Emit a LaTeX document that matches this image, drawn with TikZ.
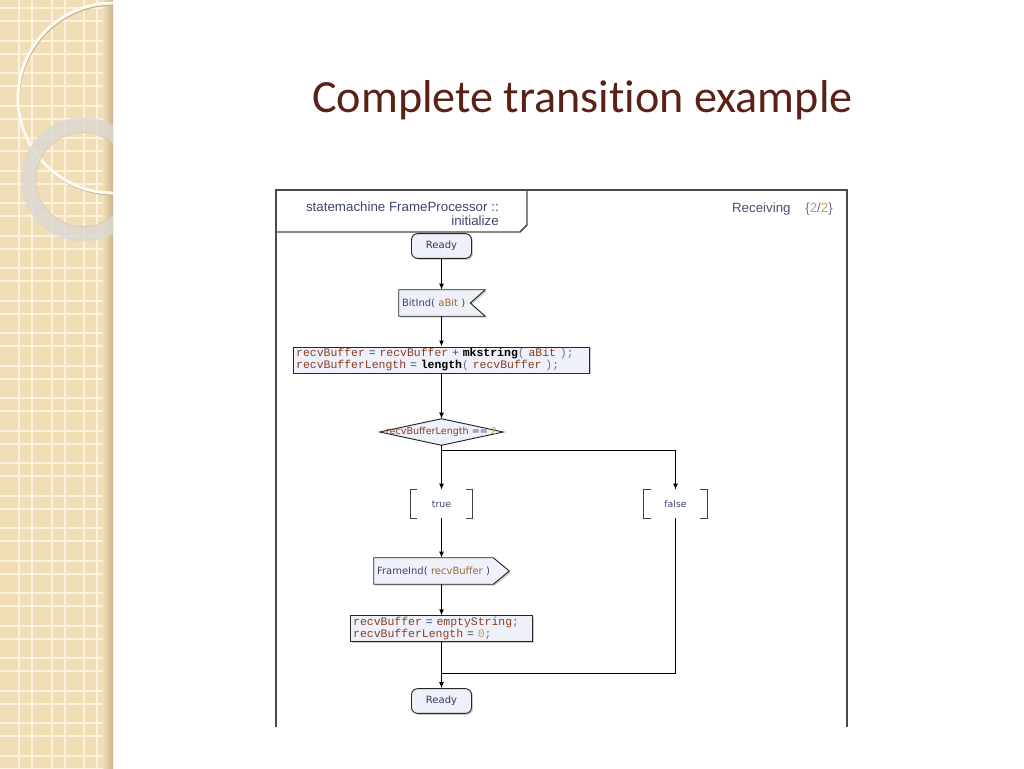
\documentclass[tikz,border=0pt]{standalone}
\usepackage{fontspec}
\setmainfont{Liberation Sans}
\newfontfamily\titlefont[Ligatures={NoCommon}]{Carlito}
\newfontfamily\smallfont{DejaVu Sans}
\newfontfamily\codefont{Liberation Mono}
\usetikzlibrary{arrows.meta,shadows}

\definecolor{bandbeige}{HTML}{F2DEB6}
\definecolor{gridcream}{HTML}{FBF2DE}
\definecolor{bandshade}{HTML}{C9B48E}
\definecolor{ringgray}{HTML}{D9D8D2}
\definecolor{titlered}{HTML}{5A2216}
\definecolor{framegray}{HTML}{4A4A4A}
\definecolor{nodefill}{HTML}{EEF0FA}
\definecolor{txtblue}{HTML}{3D4670}
\definecolor{idbrown}{HTML}{8A3E22}
\definecolor{parbrown}{HTML}{9A6A3A}
\definecolor{numgold}{HTML}{C8A050}
\definecolor{punctgray}{HTML}{707080}

\newcommand{\vid}[1]{\textcolor{idbrown}{#1}}
\newcommand{\vpar}[1]{\textcolor{parbrown}{#1}}
\newcommand{\vnum}[1]{\textcolor{numgold}{#1}}
\newcommand{\vop}[1]{\textcolor{txtblue}{#1}}
\newcommand{\vpt}[1]{\textcolor{punctgray}{#1}}
\newcommand{\vfn}[1]{\textcolor{black}{\bfseries #1}}

\begin{document}
\begin{tikzpicture}[x=0.75pt,y=0.75pt,yscale=-1,xscale=1,
  conn/.style={draw=black, line width=0.7pt},
  arr/.style={conn, -{Latex[length=4.5pt,width=3.6pt]}},
  nshadow/.style={drop shadow={shadow xshift=1.1pt, shadow yshift=-1.1pt, opacity=0.35, fill=black!60}},
  statebox/.style={draw=black!85, fill=nodefill, line width=0.7pt, rounded corners=4.5pt, minimum width=45pt, minimum height=18.5pt, inner sep=0pt, font=\smallfont\fontsize{7.5}{8.5}\selectfont, text=txtblue!80!black, nshadow},
  taskbox/.style={draw=black!85, fill=nodefill, line width=0.7pt, align=left, inner xsep=2.3pt, inner ysep=1pt, font=\codefont\fontsize{8.6}{9}\selectfont, nshadow},
  sigbox/.style={inner xsep=2.25pt, inner ysep=0pt, align=left, minimum height=19.5pt, font=\smallfont\fontsize{7.5}{8.5}\selectfont, text=txtblue},
  guardbox/.style={inner sep=0pt, minimum height=21pt, font=\smallfont\fontsize{7}{8}\selectfont, text=txtblue},
  bracketln/.style={draw=black!75, line width=0.7pt}]
\useasboundingbox (0,0) rectangle (1024,768);

%Shape: Rectangle (left band)
\fill[bandbeige] (0,0) rectangle (113,768);
\begin{scope}
\clip (0,0) rectangle (113,768);
\foreach \gx in {19,51.5,84} {
  \draw[gridcream, line width=1.5pt] (\gx,0) -- (\gx,768);
  \draw[gridcream, line width=1.5pt] (\gx+13,0) -- (\gx+13,768);
}
\foreach \gy in {0,...,23} {
  \draw[gridcream, line width=1.5pt] (0,8+32.5*\gy) -- (113,8+32.5*\gy);
  \draw[gridcream, line width=1.5pt] (0,21+32.5*\gy) -- (113,21+32.5*\gy);
}
\shade[left color=bandbeige, right color=bandshade] (103,0) rectangle (113,768);
%Shape: Circle (thin ring)
\draw[bandshade, line width=1pt] (114,100) circle [radius=95];
\draw[white!85!bandbeige, line width=2.2pt] (113,98) circle [radius=95];
%Shape: Circle (gray ring)
\fill[ringgray, opacity=0.8, even odd rule] (83,179.5) circle [radius=62] (83,179.5) circle [radius=47];
\draw[bandshade!70, line width=0.5pt] (83,179.5) circle [radius=47];
\end{scope}

%Title
\node[anchor=base west, inner sep=0pt, text=titlered, font=\titlefont\fontsize{34.6}{40}\selectfont] (title) at (312,112) {Complete transition example};

%Straight Lines (frame)
\draw[framegray, line width=1.1pt] (276,727) -- (276,190) -- (847,190) -- (847,727);
%Shape: Polygon (header tab)
\draw[framegray, line width=1.1pt] (276,232) -- (520,232) -- (527,225) -- (527,190);
\node[anchor=north east, align=right, inner sep=0pt, text=txtblue, font=\fontsize{10}{10.5}\selectfont] (hdrname) at (499,202) {statemachine FrameProcessor ::\\initialize};
\node[anchor=east, inner sep=0pt, text=txtblue!80!gray, font=\fontsize{10}{10.5}\selectfont] (hdrstate) at (833,209) {Receiving\hspace{11pt}\textcolor{punctgray}{\{}\vnum{2}\textcolor{punctgray}{/}\vnum{2}\textcolor{punctgray}{\}}};

%State: Ready (top)
\node[statebox] (ready1) at (441.5,246) {Ready};

%Input signal: BitInd
\node[sigbox, text width=60pt] (bitind) at (442,303) {BitInd( \vpar{aBit} )};
\filldraw[fill=nodefill, draw=black!85, line width=0.7pt, nshadow] (bitind.north west) -- (bitind.north east) -- ([xshift=-11.25pt]bitind.east) -- (bitind.south east) -- (bitind.south west) -- cycle;
\node[sigbox, text width=60pt] at (bitind) {BitInd( \vpar{aBit} )};

%Task: first assignment
\node[taskbox, text width=218pt, minimum height=19.5pt] (task1) at (441.5,360) {\vid{recvBuffer} \vop{=} \vid{recvBuffer} \vop{+} \vfn{mkstring}\vpt{(} \vid{aBit} \vpt{);}\\\vid{recvBufferLength} \vop{=} \vfn{length}\vpt{(} \vid{recvBuffer} \vpt{);}};

%Decision: recvBufferLength == 2
\node[minimum width=92.25pt, minimum height=19.5pt, inner sep=0pt] (dec) at (441.5,432) {};
\filldraw[fill=nodefill, draw=black!85, line width=0.7pt] (dec.west) -- (dec.north) -- (dec.east) -- (dec.south) -- cycle;
\node[inner sep=0pt, font=\smallfont\fontsize{7.2}{8}\selectfont] (declabel) at (dec) {\vid{recvBufferLength} \vop{==} \vnum{2}};

%Guards
\node[guardbox, minimum width=46.5pt] (gtrue) at (441.5,504) {true};
\draw[bracketln] ([xshift=5.25pt]gtrue.north west) -- (gtrue.north west) -- (gtrue.south west) -- ([xshift=5.25pt]gtrue.south west);
\draw[bracketln] ([xshift=-5.25pt]gtrue.north east) -- (gtrue.north east) -- (gtrue.south east) -- ([xshift=-5.25pt]gtrue.south east);
\node[guardbox, minimum width=47.25pt] (gfalse) at (675.5,504) {false};
\draw[bracketln] ([xshift=5.25pt]gfalse.north west) -- (gfalse.north west) -- (gfalse.south west) -- ([xshift=5.25pt]gfalse.south west);
\draw[bracketln] ([xshift=-5.25pt]gfalse.north east) -- (gfalse.north east) -- (gfalse.south east) -- ([xshift=-5.25pt]gfalse.south east);

%Output signal: FrameInd
\node[sigbox, text width=96.75pt] (frameind) at (441.5,571) {FrameInd( \vpar{recvBuffer} )};
\filldraw[fill=nodefill, draw=black!85, line width=0.7pt, nshadow] (frameind.north west) -- ([xshift=-12pt]frameind.north east) -- (frameind.east) -- ([xshift=-12pt]frameind.south east) -- (frameind.south west) -- cycle;
\node[sigbox, text width=96.75pt] at (frameind) {FrameInd( \vpar{recvBuffer} )};

%Task: reset
\node[taskbox, text width=132.5pt, minimum height=18.75pt] (task2) at (441.5,628.5) {\vid{recvBuffer} \vop{=} \vid{emptyString}\vpt{;}\\\vid{recvBufferLength} \vop{=} \vnum{0}\vpt{;}};

%State: Ready (bottom)
\node[statebox] (ready2) at (441.5,701) {Ready};
\coordinate (merge) at (441.5,673);

%Straight Lines (connectors)
\draw[arr] (ready1.south) -- (ready1 |- bitind.north);
\draw[arr] (ready1 |- bitind.south) -- (task1.north);
\draw[arr] (task1.south) -- (dec.north);
\draw[arr] (dec.south) -- (gtrue.north);
\draw[arr] (dec.south) ++(0,5) -| (gfalse.north);
\draw[arr] (gtrue.south) -- (frameind.north);
\draw[arr] (frameind.south) -- (task2.north);
\draw[arr] (task2.south) -- (ready2.north);
\draw[conn] (gfalse.south) |- (merge);

\end{tikzpicture}
\end{document}
